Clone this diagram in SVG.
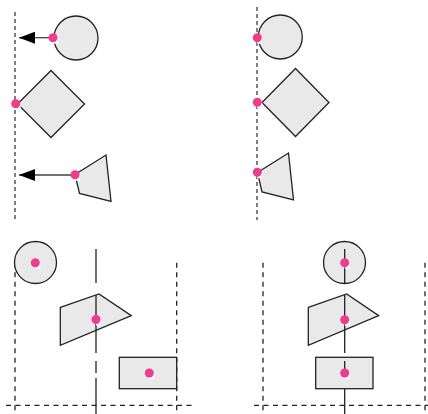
<svg xmlns="http://www.w3.org/2000/svg" width="428" height="414" viewBox="0 0 428 414">
  <defs>
    <style>
      .shape { fill: #e8e9e8; stroke: #222; stroke-width: 1.3; }
      .guideT { fill: none; stroke: #555; stroke-width: 1.5; stroke-dasharray: 4 3; }
      .guideB { fill: none; stroke: #222; stroke-width: 1.3; stroke-dasharray: 5 4.5; }
      .axis { fill: none; stroke: #222; stroke-width: 1.3; }
      .arrow { fill: none; stroke: #444; stroke-width: 1.3; }
      .dot { fill: #ee3c8f; }
      .pad { fill: #ffffff; }
    </style>
    <marker id="ah" viewBox="0 0 16 12" refX="16" refY="6" markerWidth="16" markerHeight="12" markerUnits="userSpaceOnUse" orient="auto">
      <path d="M0,0 L16,6 L0,12 Z" fill="#000"/>
    </marker>
  </defs>
  <rect width="428" height="414" fill="#ffffff"/>

  <!-- guides and connectors -->
  <g id="connectors">
    <line class="guideT" x1="15" y1="12" x2="15" y2="220"/>
    <line class="guideT" x1="257" y1="7" x2="257" y2="220"/>
    <line class="arrow" x1="50" y1="37.7" x2="19" y2="37.7" marker-end="url(#ah)"/>
    <line class="arrow" x1="72" y1="175" x2="19" y2="175" marker-end="url(#ah)"/>

    <line class="guideB" x1="15" y1="262.7" x2="15" y2="414"/>
    <line class="guideB" x1="176.7" y1="262.7" x2="176.7" y2="414"/>
    <line class="guideB" x1="6" y1="405.3" x2="192" y2="405.3"/>
    <line class="guideB" x1="263" y1="262.7" x2="263" y2="414"/>
    <line class="guideB" x1="425" y1="262.7" x2="425" y2="414"/>
    <line class="guideB" x1="254" y1="405.3" x2="428" y2="405.3"/>
  </g>

  <!-- panel 1 -->
  <g id="p1-circle">
    <circle class="shape" cx="76" cy="38" r="22"/>
    <rect class="pad" x="53" y="37.7" width="5" height="6"/>
    <circle class="dot" cx="53" cy="37.7" r="4.5"/>
  </g>
  <g id="p1-diamond">
    <polygon class="shape" points="51,70.5 84.5,104 51,137.5 17.5,104"/>
    <rect class="pad" x="15.7" y="103.7" width="5" height="6"/>
    <circle class="dot" cx="15.7" cy="103.7" r="4.5"/>
  </g>
  <g id="p1-quad">
    <polygon class="shape" points="75,174.5 106,155 111,201.5 79.5,193.5"/>
    <rect class="pad" x="75" y="174.7" width="5" height="6"/>
    <circle class="dot" cx="75" cy="174.7" r="4.5"/>
  </g>

  <!-- panel 2 -->
  <g id="p2-circle">
    <circle class="shape" cx="280.3" cy="37" r="22"/>
    <rect class="pad" x="257.3" y="37.7" width="5" height="6"/>
    <circle class="dot" cx="257.3" cy="37.7" r="4.5"/>
  </g>
  <g id="p2-diamond">
    <polygon class="shape" points="295.5,68.5 329,102.5 295.5,136.5 262,102.5"/>
    <rect class="pad" x="257.3" y="102.3" width="5" height="6"/>
    <circle class="dot" cx="257.3" cy="102.3" r="4.5"/>
  </g>
  <g id="p2-quad">
    <polygon class="shape" points="257.5,172.5 288.5,153 293.5,200 262,192"/>
    <rect class="pad" x="257.3" y="172.3" width="5" height="6"/>
    <circle class="dot" cx="257.3" cy="172.3" r="4.5"/>
  </g>

  <!-- panel 3 -->
  <g id="p3-circle">
    <circle class="shape" cx="35.5" cy="262.5" r="21"/>
    <rect class="pad" x="35.3" y="262.7" width="5" height="6"/>
    <circle class="dot" cx="35.3" cy="262.7" r="4.5"/>
  </g>
  <g id="p3-quad">
    <polygon class="shape" points="60.3,307.3 99,294 131.3,315.7 60.3,345.3"/>
  </g>
  <g id="p3-rect">
    <rect class="shape" x="119.3" y="357.3" width="57.4" height="31.4"/>
    <rect class="pad" x="149.3" y="373" width="5" height="6"/>
    <circle class="dot" cx="149.3" cy="373" r="4.5"/>
  </g>
  <g id="p3-axis">
    <path class="axis" d="M96,249 V283 M96,295 V353 M96,361 V373 M96,378 V414"/>
    <rect class="pad" x="96" y="319.5" width="5" height="6"/>
    <circle class="dot" cx="96" cy="319.5" r="4.5"/>
  </g>

  <!-- panel 4 -->
  <g id="p4-circle">
    <circle class="shape" cx="344.5" cy="262.5" r="21"/>
  </g>
  <g id="p4-quad">
    <polygon class="shape" points="308.3,307.3 346.7,294 378.7,315.7 308.3,345.3"/>
  </g>
  <g id="p4-rect">
    <rect class="shape" x="315.7" y="357.3" width="57.3" height="31.4"/>
  </g>
  <g id="p4-axis">
    <path class="axis" d="M344.7,249 V283 M344.7,295 V353 M344.7,361 V372 M344.7,389 V414"/>
    <rect class="pad" x="344.7" y="262.7" width="5" height="6"/>
    <circle class="dot" cx="344.7" cy="262.7" r="4.5"/>
    <rect class="pad" x="344.7" y="319.7" width="5" height="6"/>
    <circle class="dot" cx="344.7" cy="319.7" r="4.5"/>
    <rect class="pad" x="344.7" y="373" width="5" height="6"/>
    <circle class="dot" cx="344.7" cy="373" r="4.5"/>
  </g>
</svg>
